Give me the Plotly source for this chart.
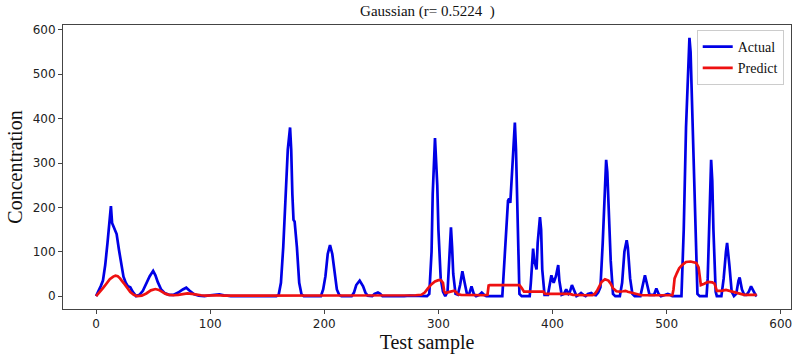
import plotly.graph_objects as go

# Actual series (sample index, concentration)
actual_x = [0, 2, 4, 6, 8, 10, 12, 13, 14, 15, 17, 18, 20, 22, 24, 26, 28, 30, 32, 35,
            38, 41, 44, 47, 50, 52, 54, 57, 60, 64, 68, 72, 76, 79, 82, 86, 90, 95,
            100, 104, 108, 112, 118, 158, 160, 162, 164, 166, 168, 170, 171, 172, 173,
            174, 176, 178, 180, 182, 197, 199, 201, 203, 205, 207, 209, 211, 213, 215,
            224, 226, 228, 231, 234, 236, 238, 242, 244, 247, 249, 251, 270, 275, 290,
            292, 294, 295, 297, 299, 300, 301, 302, 304, 306, 308, 309, 311, 312, 313,
            315, 317, 319, 321, 323, 325, 327, 329, 331, 333, 336, 338, 340, 342, 356,
            358, 360, 361, 362, 363, 365, 367, 368, 369, 370, 371, 373, 380, 381, 383,
            384, 386, 387, 389, 390, 391, 393, 396, 399, 401, 403, 405, 406, 408, 410,
            412, 414, 415, 417, 419, 421, 423, 425, 427, 429, 431, 434, 436, 438, 440,
            442, 444, 446, 447, 448, 449, 451, 453, 455, 459, 461, 463, 465, 466, 468,
            470, 472, 477, 479, 481, 483, 485, 489, 491, 493, 495, 499, 501, 503, 505,
            513, 515, 517, 519, 520, 521, 522, 524, 526, 527, 529, 535, 536, 537, 538,
            539, 540, 541, 543, 544, 548, 550, 552, 553, 555, 557, 559, 561, 563, 564,
            566, 568, 570, 572, 574, 576, 578, 579]
actual_y = [0, 10, 22, 35, 70, 120, 185, 203, 165, 158, 148, 140, 105, 70, 44, 30, 22, 20, 10, 0,
            3, 12, 28, 45, 57, 47, 32, 15, 7, 3, 3, 8, 15, 19, 12, 4, 1, 0,
            2, 3, 4, 2, 0, 0, 3, 30, 110, 220, 330, 380, 330, 230, 172,
            168, 110, 30, 4, 0, 0, 15, 45, 95, 115, 95, 50, 15, 3, 0,
            0, 8, 25, 35, 22, 8, 1, 0, 5, 8, 5, 0, 0, 1, 0,
            5, 100, 230, 356, 250, 150, 80, 40, 10, 0, 10, 60, 155, 110, 50,
            5, 3, 25, 56, 30, 5, 5, 22, 5, 0, 3, 8, 3, 0, 0,
            80, 165, 215, 220, 210, 300, 391, 330, 200, 60, 5, 0, 0, 30, 107,
            80, 60, 120, 178, 150, 60, 3, 3, 47, 30, 45, 70, 35, 3, 5,
            15, 5, 8, 25, 10, 0, 3, 7, 3, 0, 5, 7, 3, 2, 8,
            20, 120, 260, 307, 280, 200, 80, 5, 0, 0, 30, 100, 126, 110, 40,
            5, 0, 0, 25, 47, 25, 3, 3, 17, 5, 0, 3, 5, 3, 0,
            0, 150, 380, 550, 582, 550, 450, 250, 50, 5, 0, 0, 40, 150, 260,
            307, 260, 150, 10, 0, 0, 40, 100, 120, 70, 10, 0, 5, 35, 42,
            15, 3, 3, 10, 22, 10, 2, 0]

# Predict series
predict_x = [0, 3, 6, 9, 12, 15, 17, 19, 21, 24, 27, 30, 33, 36, 40, 44, 48, 52, 55, 58,
             61, 64, 68, 72, 76, 80, 84, 88, 92, 96, 100, 106, 112, 120, 140, 170, 200,
             230, 260, 270, 280, 285, 288, 291, 294, 297, 300, 302, 304, 305, 306, 309,
             312, 314, 316, 317, 320, 330, 340, 343, 344, 345, 371, 373, 375, 392, 393,
             395, 415, 418, 423, 430, 435, 437, 439, 441, 443, 446, 449, 451, 453, 456,
             459, 462, 464, 466, 470, 474, 478, 490, 500, 505, 506, 507, 509, 511, 514,
             517, 521, 524, 526, 528, 529, 530, 533, 536, 540, 542, 544, 548, 552, 556,
             560, 564, 568, 579]
predict_y = [0, 8, 18, 28, 38, 44, 46, 45, 40, 30, 18, 9, 3, 0, 1, 6, 13, 16, 14, 9,
             5, 3, 2, 3, 5, 6, 5, 3, 2, 1, 2, 2, 1, 1, 0.5, 0.5, 0.5,
             0.5, 1, 2, 2, 3, 8, 18, 27, 33, 36, 36, 30, 12, 7, 9,
             11, 12, 8, 4, 3, 2, 2, 3, 24, 25, 25, 18, 10, 10, 6,
             5, 5, 3, 2, 2, 2, 5, 12, 22, 32, 38, 35, 28, 18, 11,
             10, 11, 12, 10, 7, 4, 2, 2, 2, 2, 15, 40, 52, 63, 71,
             77, 78, 77, 75, 65, 40, 25, 28, 32, 31, 28, 12, 12, 14, 11,
             8, 5, 3, 3]

x_ticks = [0, 100, 200, 300, 400, 500, 600]
y_ticks = [0, 100, 200, 300, 400, 500, 600]

serif = "Liberation Serif, Times New Roman, serif"
sans = "DejaVu Sans, sans-serif"

fig = go.Figure()
fig.add_trace(go.Scatter(x=actual_x, y=actual_y, mode="lines", name="Actual",
                         line=dict(color="#0000e6", width=2.7)))
fig.add_trace(go.Scatter(x=predict_x, y=predict_y, mode="lines", name="Predict",
                         line=dict(color="#ee1111", width=2.7)))

axis_common = dict(showline=True, linecolor="#444", linewidth=1, mirror=True,
                   ticks="outside", ticklen=4, tickwidth=1, tickcolor="#444",
                   showgrid=False, zeroline=False, automargin=False,
                   tickfont=dict(family=sans, size=12, color="#222"))

fig.update_layout(
    width=799, height=360,
    margin=dict(l=63, r=8, t=25, b=51),
    paper_bgcolor="white", plot_bgcolor="white",
    title=dict(text="Gaussian (r= 0.5224  )", x=0.535, xanchor="center",
               y=1 - 11 / 360, yanchor="middle",
               font=dict(family=serif, size=15, color="#111")),
    xaxis=dict(range=[-29, 609], tickvals=x_ticks,
               title=dict(text="Test sample", standoff=4,
                          font=dict(family=serif, size=20, color="#111")),
               **axis_common),
    yaxis=dict(range=[-29, 611], tickvals=y_ticks,
               title=dict(text="Concentration", standoff=4,
                          font=dict(family=serif, size=20, color="#111")),
               **axis_common),
    legend=dict(x=0.99, y=0.982, xanchor="right", yanchor="top",
                bgcolor="white", bordercolor="#cccccc", borderwidth=1,
                font=dict(family=serif, size=14, color="#111"),
                tracegroupgap=0),
    showlegend=True,
)

fig.write_html(
    "out.html",
    config={"displayModeBar": False},
    post_script="document.body.style.margin='0';document.body.style.padding='0';",
)
